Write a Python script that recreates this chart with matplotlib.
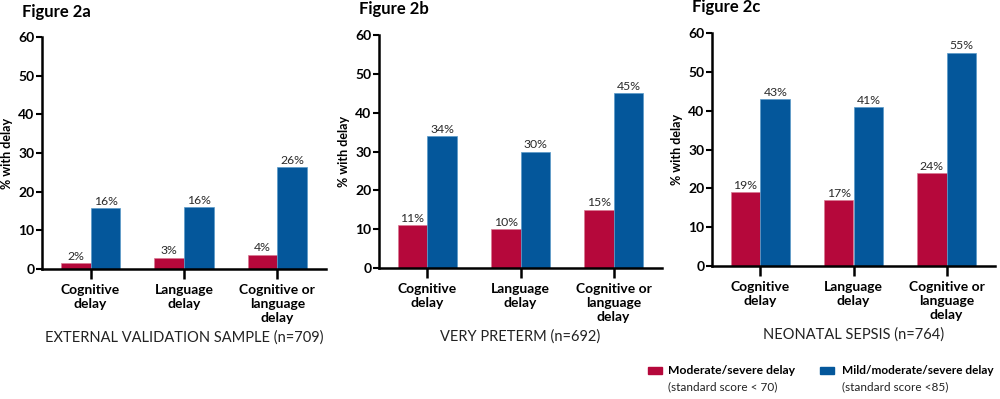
import matplotlib
matplotlib.use("Agg")
import matplotlib.pyplot as plt
from matplotlib.patches import Rectangle

plt.rcParams['font.family'] = ['Lato', 'DejaVu Sans']

categories = ["Cognitive\ndelay", "Language\ndelay", "Cognitive or\nlanguage\ndelay"]
panel_titles = ["Figure 2a", "Figure 2b", "Figure 2c"]
panel_subtitles = ["EXTERNAL VALIDATION SAMPLE (n=709)", "VERY PRETERM (n=692)", "NEONATAL SEPSIS (n=764)"]

moderate_a = [1.5, 2.9, 3.7]
mild_a = [15.7, 16.0, 26.3]
moderate_b = [11, 10, 15]
mild_b = [34, 30, 45]
moderate_c = [19, 17, 24]
mild_c = [43, 41, 55]

moderate_labels_a = ["2%", "3%", "4%"]
mild_labels_a = ["16%", "16%", "26%"]
moderate_labels_b = ["11%", "10%", "15%"]
mild_labels_b = ["34%", "30%", "45%"]
moderate_labels_c = ["19%", "17%", "24%"]
mild_labels_c = ["43%", "41%", "55%"]

yticks = [0, 10, 20, 30, 40, 50, 60]
red = "#B5083B"
blue = "#04579B"

fig = plt.figure(figsize=(10, 3.99), dpi=100)

panels = [
    (moderate_a, mild_a, moderate_labels_a, mild_labels_a, [0.042, 0.326, 0.284, 0.581]),
    (moderate_b, mild_b, moderate_labels_b, mild_labels_b, [0.379, 0.328, 0.283, 0.584]),
    (moderate_c, mild_c, moderate_labels_c, mild_labels_c, [0.712, 0.333, 0.283, 0.584]),
]

w = 0.32
for i, (mod, mil, modl, mill, rect) in enumerate(panels):
    ax = fig.add_axes(rect)
    x = list(range(len(categories)))
    b1 = ax.bar([xi - w / 2 for xi in x], mod, width=w, color=red, edgecolor="#d87a92", linewidth=0.5)
    b2 = ax.bar([xi + w / 2 for xi in x], mil, width=w, color=blue, edgecolor="#5a9ac8", linewidth=0.5)
    for bar, lab in zip(b1, modl):
        ax.annotate(lab, (bar.get_x() + bar.get_width() / 2, bar.get_height()),
                    xytext=(0, 1.0), textcoords="offset points", ha="center", va="bottom",
                    fontsize=8.8, color="#2a2a2a")
    for bar, lab in zip(b2, mill):
        ax.annotate(lab, (bar.get_x() + bar.get_width() / 2, bar.get_height()),
                    xytext=(0, 1.0), textcoords="offset points", ha="center", va="bottom",
                    fontsize=8.8, color="#2a2a2a")
    ax.set_xlim(-0.52, 2.52)
    ax.set_ylim(0, 60)
    ax.set_yticks(yticks)
    ax.set_xticks(x)
    ax.set_xticklabels(categories, fontsize=10, fontweight="bold", linespacing=1.2, va="top")
    for t in ax.get_yticklabels():
        t.set_fontweight("bold")
        t.set_fontsize(10)
    ax.spines["top"].set_visible(False)
    ax.spines["right"].set_visible(False)
    ax.spines["left"].set_linewidth(1.8)
    ax.spines["bottom"].set_linewidth(1.8)
    ax.tick_params(axis="y", length=4, width=1.5, pad=1.5)
    ax.tick_params(axis="x", length=7, width=1.8, pad=4)
    ax.set_ylabel("% with delay", fontsize=9, fontweight="bold", labelpad=4)
    ax.text(-0.07, 1.11, panel_titles[i], transform=ax.transAxes, fontsize=12,
            fontweight="bold", ha="left", va="center")
    ax.text(0.5, -0.295, panel_subtitles[i], transform=ax.transAxes, fontsize=10.5,
            ha="center", va="center", color="#222222")

# legend
fig.add_artist(Rectangle((0.648, 1 - 374 / 399), 0.014, 7 / 399, transform=fig.transFigure, color=red))
fig.text(0.668, 1 - 370 / 399, "Moderate/severe delay", fontsize=8.7, fontweight="bold", va="center", ha="left")
fig.text(0.668, 1 - 387 / 399, "(standard score < 70)", fontsize=8.5, va="center", ha="left", color="#222222")
fig.add_artist(Rectangle((0.820, 1 - 374 / 399), 0.014, 7 / 399, transform=fig.transFigure, color=blue))
fig.text(0.842, 1 - 370 / 399, "Mild/moderate/severe delay", fontsize=8.5, fontweight="bold", va="center", ha="left")
fig.text(0.842, 1 - 387 / 399, "(standard score <85)", fontsize=8.5, va="center", ha="left", color="#222222")

fig.savefig("out.png", dpi=100)
